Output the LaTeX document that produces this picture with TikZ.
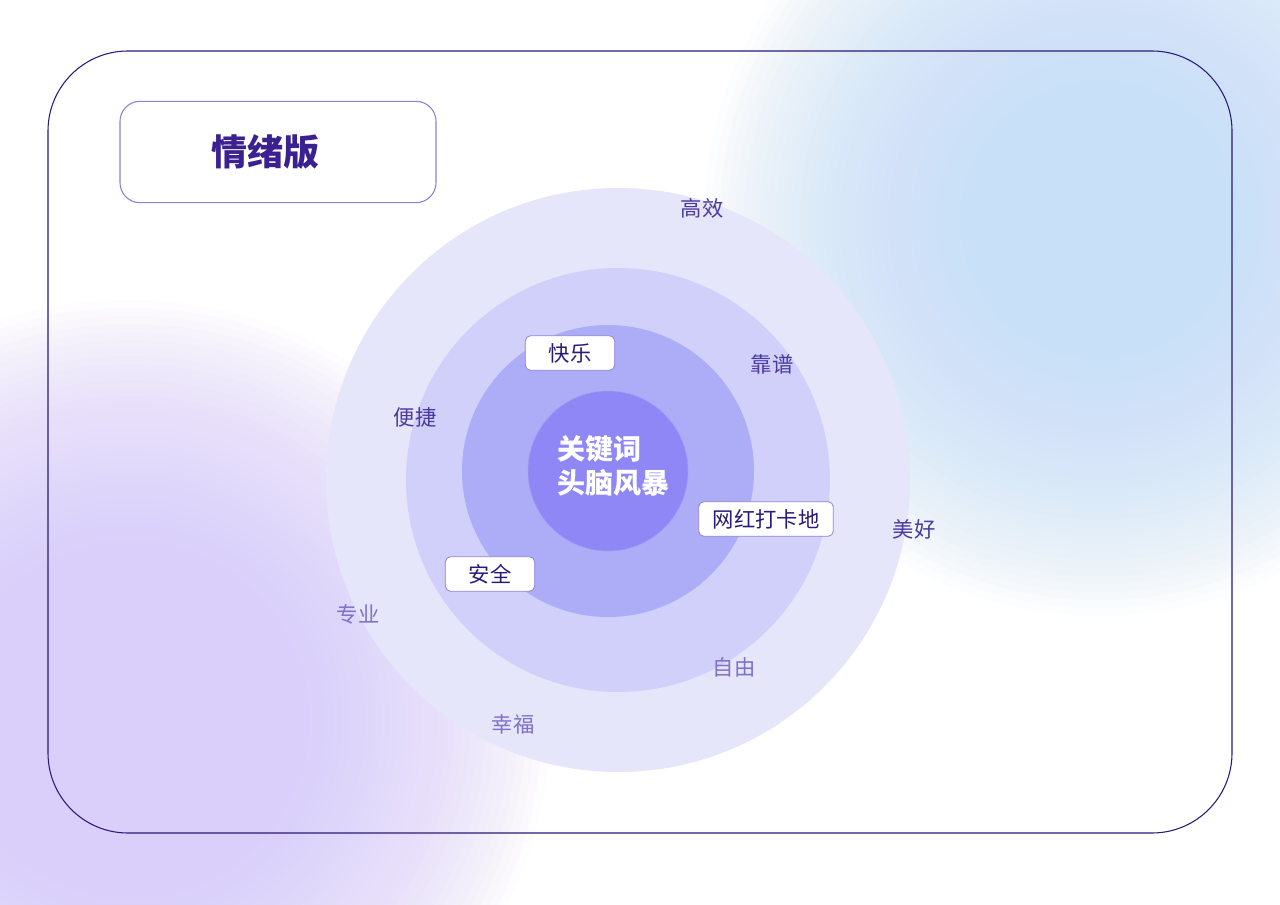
\documentclass[tikz,border=0pt]{standalone}
\usepackage{fontspec}
\newfontfamily\cjk{Noto Sans CJK SC}
\definecolor{frame}{HTML}{2A1A7A}
\definecolor{lbl}{HTML}{4A3AA0}
\definecolor{lbl2}{HTML}{8070C8}
\definecolor{bx}{HTML}{9080D0}
\definecolor{bblob}{RGB}{200,225,248}
\definecolor{pblob}{RGB}{218,206,250}
\tikzset{
 word/.style={font=\cjk\fontsize{16}{18}\selectfont, text=lbl},
 wordlight/.style={font=\cjk\fontsize{16}{18}\selectfont, text=lbl2},
 tag/.style={draw=bx, fill=white, rounded corners=4pt, font=\cjk\fontsize{16}{18}\selectfont, text=frame, minimum height=26pt, inner xsep=8pt, line width=0.6pt},
}
\begin{document}
\begin{tikzpicture}[x=0.75pt,y=-0.75pt]
\useasboundingbox (0,0) rectangle (1280,905);
\fill[white] (0,0) rectangle (1280,905);
\begin{scope}
\clip (0,0) rectangle (1280,905);
\foreach \r in {100,108,...,400} \fill[bblob, opacity=0.05] (1100,220) circle (\r);
\foreach \r in {100,108,...,420} \fill[pblob, opacity=0.05] (130,720) circle (\r);
\end{scope}
\draw[frame, line width=0.8pt, rounded corners=60pt] (48,51) rectangle (1232,833);
\node[draw=bx, line width=0.8pt, rounded corners=15pt, minimum width=237pt, minimum height=76pt] (title) at (278,152) {};
\node[font=\cjk\bfseries\fontsize{27}{30}\selectfont, text={rgb,255:red,58;green,32;blue,144}] (titletext) at (265,152) {情绪版};
\fill[fill={rgb,255:red,230;green,230;blue,250}] (618,480) circle (292);
\fill[fill={rgb,255:red,208;green,208;blue,250}] (618,480) circle (212);
\fill[fill={rgb,255:red,173;green,173;blue,247}] (608,471) circle (146);
\node[circle, fill={rgb,255:red,143;green,135;blue,245}, draw={rgb,255:red,160;green,155;blue,245}, minimum size=120pt, inner sep=0pt] (core) at (608,471) {};
\node[font=\cjk\bfseries\fontsize{21}{25}\selectfont, text=white, align=left] (coretext) at (613,466) {关键词\\头脑风暴};
\node[word] (w1) at (702,208) {高效};
\node[word] (w2) at (772,364) {靠谱};
\node[word] (w3) at (415,417) {便捷};
\node[word] (w4) at (914,529) {美好};
\node[wordlight] (w5) at (358,614) {专业};
\node[wordlight] (w6) at (734,667) {自由};
\node[wordlight] (w7) at (513,724) {幸福};
\node[tag, minimum width=67pt] (t1) at (570,353) {快乐};
\node[tag, minimum width=101pt] (t2) at (766,519) {网红打卡地};
\node[tag, minimum width=67pt] (t3) at (490,574) {安全};
\end{tikzpicture}
\end{document}
